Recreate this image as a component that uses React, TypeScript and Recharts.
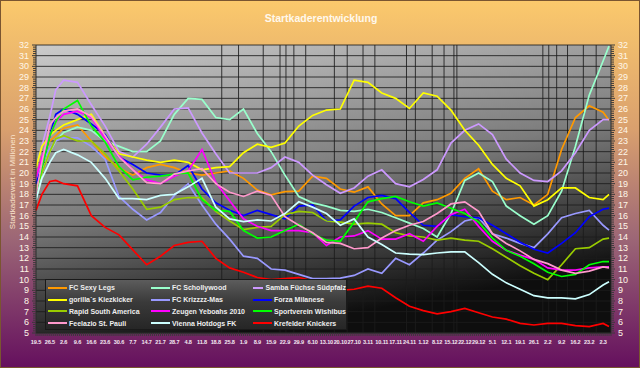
import { LineChart, Line, XAxis, YAxis, CartesianGrid } from "recharts";

// days after 19.5
const days = [0, 3, 7, 10, 14, 21, 28, 35, 42, 49, 56, 63, 70, 77, 84, 91, 98, 105, 112, 119, 126, 133, 140, 147, 154, 161, 168, 175, 182, 189, 196, 203, 210, 217, 224, 231, 238, 245, 252, 259, 266, 273, 280, 287, 290];

const weekLabels = ["19.5", "26.5", "2.6", "9.6", "16.6", "23.6", "30.6", "7.7", "14.7", "21.7", "28.7", "4.8", "11.8", "18.8", "25.8", "1.9", "8.9", "15.9", "22.9", "29.9", "6.10", "13.10", "20.10", "27.10", "3.11", "10.11", "17.11", "24.11", "1.12", "8.12", "15.12", "22.12", "29.12", "5.1", "12.1", "19.1", "26.1", "2.2", "9.2", "16.2", "23.2", "2.3"];

// days with a vertical grid line
const gridDays = [94, 102.5, 115, 123.5, 126.5, 130.5, 136.5, 151, 157.5, 165.5, 171.5, 187.5, 192, 200.5, 206.5, 211.5, 213, 256.5, 259.5, 263.5, 269, 277, 283.5];

const sexyLegs = [19.5, 21.5, 23.0, 23.5, 24.2, 24.5, 23.0, 21.5, 20.5, 19.8, 20.5, 20.8, 20.5, 20.0, 19.8, 20.0, 20.2, 19.5, 18.4, 17.95, 18.25, 18.3, 19.7, 19.5, 18.5, 18.2, 18.7, 17.1, 16.0, 16.0, 17.2, 17.5, 18.1, 19.5, 20.4, 18.3, 17.5, 17.7, 17.0, 18.0, 22.2, 25.2, 26.3, 25.7, 24.95];
const schollywood = [17.5, 20.0, 22.0, 23.0, 23.8, 24.3, 24.0, 23.0, 22.5, 22.0, 22.0, 23.0, 25.5, 27.0, 26.9, 25.2, 25.0, 26.0, 23.7, 22.0, 19.8, 17.8, 17.2, 16.9, 16.5, 16.4, 16.6, 16.3, 15.8, 15.3, 14.8, 14.0, 16.2, 19.3, 20.0, 19.2, 16.9, 16.0, 15.2, 16.0, 18.3, 22.5, 27.3, 30.5, 31.9];
const samba = [20.5, 22.5, 25.3, 27.8, 28.7, 28.5, 26.4, 24.4, 22.0, 21.5, 22.7, 24.3, 26.0, 26.1, 23.75, 21.8, 20.0, 20.0, 20.0, 20.5, 21.5, 21.0, 19.8, 18.9, 18.1, 18.6, 19.7, 20.3, 19.0, 18.7, 19.4, 20.3, 22.8, 24.0, 24.6, 23.6, 21.3, 20.0, 19.3, 19.2, 20.2, 21.9, 24.0, 25.0, 25.0];
const gorilla = [20.5, 22.5, 23.5, 24.0, 24.5, 25.0, 25.5, 23.5, 21.8, 21.5, 21.2, 21.0, 21.2, 21.0, 20.3, 20.5, 20.6, 21.9, 22.7, 22.4, 22.8, 24.4, 25.4, 25.9, 26.0, 28.7, 28.5, 27.5, 27.0, 26.05, 27.5, 27.2, 25.9, 24.0, 22.6, 20.8, 19.5, 18.8, 16.9, 17.5, 18.6, 18.6, 17.7, 17.5, 18.0];
const krizzzz = [19.0, 21.0, 22.3, 23.0, 23.3, 23.3, 22.5, 21.3, 17.8, 16.6, 15.6, 16.3, 17.9, 19.0, 17.0, 15.2, 13.8, 12.2, 12.0, 11.0, 10.9, 10.5, 10.1, 10.1, 10.15, 10.4, 11.0, 10.6, 12.0, 11.4, 12.5, 13.7, 14.5, 15.5, 15.8, 14.3, 13.9, 13.4, 13.0, 14.3, 15.8, 16.2, 16.5, 15.1, 14.65];
const forza = [19.0, 20.6, 23.5, 25.5, 26.0, 25.5, 24.6, 23.6, 21.5, 20.8, 20.0, 19.8, 19.8, 20.7, 18.5, 17.2, 16.5, 16.0, 16.5, 16.1, 15.7, 16.9, 17.0, 15.5, 15.6, 16.9, 17.7, 17.9, 17.6, 16.3, 15.1, 15.0, 16.1, 15.9, 15.8, 15.1, 14.3, 13.5, 12.85, 12.5, 13.4, 14.4, 15.9, 16.6, 16.7];
const rapid = [18.5, 20.0, 22.0, 23.2, 23.5, 23.0, 23.0, 21.8, 20.2, 18.5, 16.6, 16.8, 17.5, 17.7, 17.7, 16.4, 15.5, 14.7, 14.9, 15.0, 16.1, 16.4, 16.3, 15.5, 15.4, 15.2, 15.3, 15.2, 14.4, 14.1, 14.0, 13.7, 13.9, 13.7, 13.6, 12.9, 12.1, 11.3, 10.6, 10.0, 11.4, 12.9, 13.0, 13.8, 13.9];
const zeugen = [19.5, 21.5, 23.5, 24.8, 25.5, 25.8, 25.2, 23.2, 21.6, 20.3, 19.35, 19.0, 19.7, 20.2, 22.2, 19.1, 17.4, 15.7, 15.0, 14.6, 14.6, 14.6, 14.4, 13.2, 14.0, 14.1, 14.6, 13.8, 13.8, 14.3, 13.6, 15.0, 16.1, 16.6, 15.0, 13.6, 12.75, 12.3, 11.9, 11.1, 10.9, 10.9, 11.1, 11.2, 11.2];
const wishibus = [18.0, 20.5, 23.5, 24.8, 26.0, 26.8, 24.4, 22.9, 20.6, 19.35, 19.6, 19.7, 19.9, 20.0, 17.5, 16.5, 16.4, 14.6, 13.9, 14.0, 14.6, 15.2, 14.3, 13.7, 13.6, 15.4, 17.3, 17.6, 17.8, 17.3, 16.9, 17.2, 16.7, 16.2, 15.4, 13.9, 12.75, 12.2, 11.5, 10.7, 10.3, 10.5, 11.4, 11.7, 11.7];
const feelazio = [18.0, 21.0, 24.5, 25.2, 25.8, 26.0, 25.3, 23.5, 21.5, 20.3, 19.1, 19.0, 19.9, 20.2, 20.4, 19.0, 18.2, 17.8, 18.3, 17.9, 15.9, 15.1, 14.4, 13.5, 13.4, 12.9, 13.0, 13.9, 14.6, 15.1, 15.45, 16.2, 17.1, 17.3, 16.4, 14.3, 13.4, 12.7, 11.9, 11.5, 10.9, 10.6, 10.8, 11.2, 11.1];
const vienna = [17.5, 19.5, 21.0, 21.9, 22.2, 21.7, 21.0, 19.5, 17.6, 17.6, 17.5, 17.9, 18.0, 18.7, 19.5, 16.8, 15.7, 15.45, 15.6, 15.5, 16.2, 17.3, 16.8, 16.2, 15.1, 15.7, 14.0, 13.3, 12.5, 12.4, 12.35, 12.5, 12.6, 12.6, 11.6, 10.5, 9.7, 9.1, 8.5, 8.3, 8.3, 8.2, 8.6, 9.5, 9.8];
const krefeld = [16.5, 18.0, 19.2, 19.3, 19.0, 18.8, 16.0, 14.9, 14.2, 12.8, 11.4, 12.2, 13.2, 13.5, 13.6, 12.0, 11.1, 10.7, 10.2, 10.0, 10.1, 10.2, 9.9, 9.5, 9.0, 9.1, 9.4, 9.2, 8.3, 7.5, 7.1, 6.8, 7.0, 7.3, 6.9, 6.5, 6.3, 5.9, 5.75, 5.9, 5.9, 5.7, 5.6, 5.9, 5.6];

// legend order (3 columns)
const teams = [
  { key: "sexyLegs", name: "FC Sexy Legs", color: "#FF9900", values: sexyLegs },
  { key: "schollywood", name: "FC Schollywood", color: "#99FFCC", values: schollywood },
  { key: "samba", name: "Samba Füchse Südpfalz", color: "#CC99FF", values: samba },
  { key: "gorilla", name: "gorilla´s Kiezkicker", color: "#FFFF00", values: gorilla },
  { key: "krizzzz", name: "FC Krizzzz-Mas", color: "#9999FF", values: krizzzz },
  { key: "forza", name: "Forza Milanese", color: "#0000FF", values: forza },
  { key: "rapid", name: "Rapid South America", color: "#99CC00", values: rapid },
  { key: "zeugen", name: "Zeugen Yeboahs 2010", color: "#FF00FF", values: zeugen },
  { key: "wishibus", name: "Sportverein Wishibus", color: "#00FF00", values: wishibus },
  { key: "feelazio", name: "Feelazio St. Pauli", color: "#FF99CC", values: feelazio },
  { key: "vienna", name: "Vienna Hotdogs FK", color: "#CCFFFF", values: vienna },
  { key: "krefeld", name: "Krefelder Knickers", color: "#FF0000", values: krefeld },
];

const data = days.map((day, i) => {
  const row: Record<string, number> = { day };
  teams.forEach((t) => (row[t.key] = t.values[i]));
  return row;
});

const yTicks = Array.from({ length: 136 }, (_, i) => +(5 + i * 0.2).toFixed(1));
const yMajor = Array.from({ length: 28 }, (_, i) => 5 + i);
const xTicks = Array.from({ length: 292 }, (_, i) => i);

const narrow = "'Liberation Sans Narrow', 'Liberation Sans', Arial, sans-serif";
const sans = "'Liberation Sans', Arial, sans-serif";

const isInt = (v: number) => Math.abs(v - Math.round(v)) < 1e-6;

function LeftTick(props: any) {
  const { x, y, payload } = props;
  const major = isInt(payload.value);
  return (
    <g>
      <line x1={x - (major ? 4 : 3)} y1={y} x2={x} y2={y} stroke="#3a3a3a" strokeWidth={1} />
      {major && (
        <text x={x - 7} y={y + 3} textAnchor="end" fontSize={9} fontFamily={narrow} fill="#FFF6E8">
          {Math.round(payload.value)}
        </text>
      )}
    </g>
  );
}

function RightTick(props: any) {
  const { x, y, payload } = props;
  const major = isInt(payload.value);
  return (
    <g>
      <line x1={x} y1={y} x2={x + (major ? 4 : 3)} y2={y} stroke="#3a3a3a" strokeWidth={1} />
      {major && (
        <text x={x + 7} y={y + 3} textAnchor="start" fontSize={9} fontFamily={narrow} fill="#FFF6E8">
          {Math.round(payload.value)}
        </text>
      )}
    </g>
  );
}

function BottomTick(props: any) {
  const { x, y, payload } = props;
  const d = payload.value;
  const label = d % 7 === 0 ? weekLabels[d / 7] : undefined;
  return (
    <g>
      <line x1={x} y1={y} x2={x} y2={y + 3} stroke="#3a3a3a" strokeWidth={1} />
      {label && (
        <text
          x={x}
          y={y + 11}
          textAnchor="middle"
          fontSize={5.6}
          fontWeight="bold"
          letterSpacing={-0.15}
          fontFamily={narrow}
          fill="#F4E8F2"
        >
          {label}
        </text>
      )}
    </g>
  );
}

export default function App() {
  return (
    <div
      style={{
        position: "fixed",
        left: 0,
        top: 0,
        width: 640,
        height: 368,
        boxSizing: "border-box",
        border: "1px solid #7a5530",
        background: "linear-gradient(180deg, #FBC96C 0%, #D9A06E 35%, #9C6676 65%, #65105E 100%)",
        overflow: "hidden",
      }}
    >
      <div style={{ position: "absolute", left: -1, top: -1 }}>
        <LineChart width={640} height={368} data={data} margin={{ top: 45, right: 0, bottom: 0, left: 0 }}>
          <defs>
            <linearGradient id="plotBg" x1="0" y1="0" x2="0.35" y2="1">
              <stop offset="0%" stopColor="#CBCBCB" />
              <stop offset="55%" stopColor="#7C7C7C" />
              <stop offset="100%" stopColor="#0E0E0E" />
            </linearGradient>
          </defs>
          <CartesianGrid
            yAxisId="left"
            fill="url(#plotBg)"
            fillOpacity={1}
            stroke="#1c1c1c"
            strokeOpacity={0.85}
            horizontalValues={yMajor}
            verticalValues={gridDays}
          />
          <XAxis
            type="number"
            dataKey="day"
            domain={[0, 291]}
            ticks={xTicks}
            interval={0}
            height={35}
            tickSize={0}
            tickMargin={0}
            tickLine={false}
            tick={<BottomTick />}
            axisLine={{ stroke: "#2a2a2a" }}
          />
          <YAxis
            yAxisId="left"
            domain={[5, 32]}
            ticks={yTicks}
            interval={0}
            width={36}
            tickSize={0}
            tickMargin={0}
            tickLine={false}
            tick={<LeftTick />}
            axisLine={{ stroke: "#2a2a2a" }}
            allowDataOverflow
          />
          <YAxis
            yAxisId="right"
            orientation="right"
            domain={[5, 32]}
            ticks={yTicks}
            interval={0}
            width={29}
            tickSize={0}
            tickMargin={0}
            tickLine={false}
            tick={<RightTick />}
            axisLine={{ stroke: "#2a2a2a" }}
            allowDataOverflow
          />
          {teams.map((t) => (
            <Line
              key={t.key}
              yAxisId="left"
              type="linear"
              dataKey={t.key}
              name={t.name}
              stroke={t.color}
              strokeWidth={1.7}
              dot={false}
              isAnimationActive={false}
            />
          ))}
        </LineChart>
      </div>

      <div
        style={{
          position: "absolute",
          left: 0,
          width: 640,
          top: 11,
          textAlign: "center",
          fontFamily: sans,
          fontWeight: "bold",
          fontSize: 10.5,
          color: "#FFF8EC",
        }}
      >
        Startkaderentwicklung
      </div>

      <div
        style={{
          position: "absolute",
          left: 11,
          top: 181,
          transform: "translate(-50%, -50%) rotate(-90deg)",
          whiteSpace: "nowrap",
          fontFamily: narrow,
          fontSize: 8,
          color: "#FBE4CC",
        }}
      >
        Startkaderwert in Millionen
      </div>

      <div
        style={{
          position: "absolute",
          left: 44,
          top: 278,
          width: 302,
          height: 51,
          boxSizing: "border-box",
          border: "1px solid #1a1a1a",
          background: "linear-gradient(180deg, #5c5c5c 0%, #3a3a3a 45%, #262626 100%)",
          display: "grid",
          gridTemplateColumns: "103px 102px 95px",
          gridAutoRows: "11.8px",
          paddingTop: 2,
        }}
      >
        {teams.map((t) => (
          <div key={t.key} style={{ display: "flex", alignItems: "center", paddingLeft: 2 }}>
            <span style={{ display: "inline-block", width: 19, height: 2, background: t.color, marginRight: 2 }} />
            <span
              style={{
                fontFamily: narrow,
                fontWeight: "bold",
                fontSize: 7,
                color: "#EEEEEE",
                whiteSpace: "nowrap",
              }}
            >
              {t.name}
            </span>
          </div>
        ))}
      </div>
    </div>
  );
}
